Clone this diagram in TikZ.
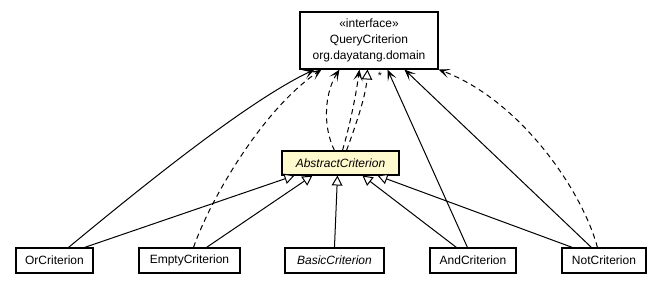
\documentclass[tikz,border=0pt]{standalone}
\usepackage{fontspec}
\setmainfont{Liberation Sans}
\usetikzlibrary{arrows.meta,calc}
\definecolor{chiffon}{RGB}{255,250,205}
\begin{document}
\begin{tikzpicture}[x=0.75pt,y=-0.75pt,
  cls/.style={draw,line width=0.8pt,fill=white,inner sep=0pt,
    font=\fontsize{9}{12}\selectfont,align=center,minimum height=18.75pt},
  nav/.style={line width=0.75pt,-{Stealth[length=8.5pt,width=7pt,inset=4.5pt]}},
  dep/.style={nav,dash pattern=on 4pt off 3pt},
  ext/.style={line width=0.75pt,-{Triangle[open,length=7.5pt,width=8pt,fill=white]}},
  impl/.style={ext,dash pattern=on 4pt off 3pt}]
\useasboundingbox (0,0) rectangle (661,289);

% classes
\node[cls,minimum width=103.5pt,minimum height=42.75pt] (Query) at (369,40.5)
  {«interface»\\QueryCriterion\\org.dayatang.domain};
\node[cls,fill=chiffon,minimum width=87.75pt,minimum height=18pt,font=\fontsize{9}{12}\selectfont\itshape] (Abstract) at (340.5,163) {AbstractCriterion};
\node[cls,minimum width=57.75pt] (Or) at (54.5,260.5) {OrCriterion};
\node[cls,minimum width=75.75pt] (Empty) at (189.5,260.5) {EmptyCriterion};
\node[cls,minimum width=74.25pt,font=\fontsize{9}{12}\selectfont\itshape] (Basic) at (334.5,260.5) {BasicCriterion};
\node[cls,minimum width=64.5pt] (And) at (473,260.5) {AndCriterion};
\node[cls,minimum width=63pt] (Not) at (604,260.5) {NotCriterion};

% generalisations towards AbstractCriterion
\draw[ext] ($(Or.north west)+(69,0)$) -- ($(Abstract.south west)+(13,0)$);
\draw[ext] ($(Empty.north west)+(68,0)$) -- ($(Abstract.south west)+(31,0)$);
\draw[ext] ($(Basic.north west)+(50,0)$) -- ($(Abstract.south west)+(56,0)$);
\draw[ext] ($(And.north west)+(27,0)$) -- ($(Abstract.south west)+(81,0)$);
\draw[ext] ($(Not.north west)+(11,0)$) -- ($(Abstract.south west)+(96,0)$);

% AbstractCriterion towards the interface
\draw[dep] ($(Abstract.north west)+(53,0)$) .. controls (322,125) and (325,92) .. ($(Query.south west)+(40,0)$);
\draw[dep] ($(Abstract.north west)+(61,0)$) .. controls (350,125) and (356,95) .. ($(Query.south west)+(60,0)$);
\draw[impl] ($(Abstract.north west)+(65,0)$) .. controls (356,125) and (366,95) .. ($(Query.south west)+(68,0)$);

% associations and dependencies of the concrete criteria
\draw[nav] ($(Or.north west)+(53,0)$) .. controls (150,180) and (250,100) .. ($(Query.south west)+(15,0)$);
\draw[dep] ($(Empty.north west)+(55,0)$) .. controls (210,200) and (262,110) .. ($(Query.south west)+(22,0)$);
\draw[nav] ($(And.north west)+(38,0)$) -- ($(Query.south west)+(88,0)$);
\draw[nav] ($(Not.north west)+(30,0)$) -- ($(Query.south west)+(105,0)$);
\draw[dep] ($(Not.north west)+(36,0)$) .. controls (582,190) and (520,100) .. (Query.south east);

\node[font=\fontsize{8}{9}\selectfont,inner sep=0pt] (mult) at (380,76) {*};
\end{tikzpicture}
\end{document}
